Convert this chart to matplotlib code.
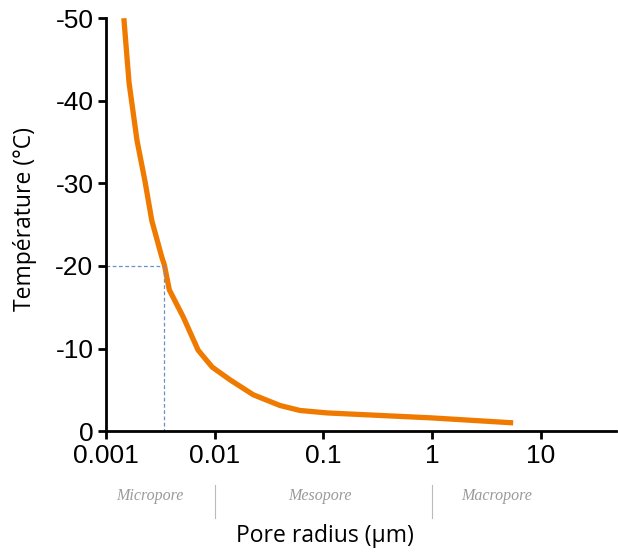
import matplotlib
matplotlib.use('Agg')
import matplotlib.pyplot as plt

# pore radius (um) vs freezing temperature (C)
radius = [0.00146, 0.00163, 0.00193, 0.00229, 0.00264, 0.00326, 0.00345,
          0.00383, 0.00515, 0.00705, 0.0095, 0.0139, 0.0227, 0.040, 0.061,
          0.109, 1.0, 5.6]
temp = [-50, -42.2, -35.2, -30.2, -25.5, -21.1, -20.1, -17.1, -13.8, -9.8,
        -7.75, -6.2, -4.4, -3.1, -2.5, -2.2, -1.6, -1.0]

x_ticks = [0.001, 0.01, 0.1, 1, 10]
x_ticklabels = ['0.001', '0.01', '0.1', '1', '10']
y_ticks = [0, -10, -20, -30, -40, -50]

marker_r = 0.00345
marker_t = -20

regions = ['Micropore', 'Mesopore', 'Macropore']
region_centers = [0.00254, 0.094, 3.93]
region_bounds = [0.01, 1]

fig = plt.figure(figsize=(6.18, 5.52), dpi=100)
ax = fig.add_axes([0.1715, 0.219, 0.826, 0.748])

ax.plot(radius, temp, color='#F07A00', linewidth=3.8, solid_capstyle='butt',
        solid_joinstyle='round')
ax.plot([0.001, marker_r], [marker_t, marker_t], color='#6d8fc4', lw=0.9, ls=(0, (3, 2)))
ax.plot([marker_r, marker_r], [marker_t, 0], color='#6d8fc4', lw=0.9, ls=(0, (3, 2)))

ax.set_xscale('log')
ax.set_xlim(0.001, 50)
ax.set_ylim(0, -50)
ax.set_xticks(x_ticks)
ax.set_xticklabels(x_ticklabels)
ax.minorticks_off()
ax.set_yticks(y_ticks)
ax.set_yticklabels([str(v) for v in y_ticks])

for s in ['top', 'right']:
    ax.spines[s].set_visible(False)
for s in ['left', 'bottom']:
    ax.spines[s].set_linewidth(2)
ax.tick_params(width=2, length=6, direction='out', labelsize=19, pad=3)
for lab in ax.get_xticklabels() + ax.get_yticklabels():
    lab.set_fontfamily('Liberation Sans')

trans = ax.get_xaxis_transform()
for name, xc in zip(regions, region_centers):
    ax.text(xc, -0.158, name, transform=trans, ha='center', va='center',
            fontsize=11.5, style='italic', family='Liberation Serif', color='#9a9a9a')
for b in region_bounds:
    ax.plot([b, b], [-0.13, -0.21], transform=trans, color='#bbbbbb', lw=0.8, clip_on=False)

fig.text(325 / 618, 1 - 536 / 552, 'Pore radius (\u00b5m)', ha='center', va='center',
         fontsize=16.5, family='Open Sans')
fig.text(25 / 618, 1 - 219 / 552, 'Température (°C)', ha='center', va='center',
         rotation=90, fontsize=16.5, family='Open Sans')

plt.savefig('out.png', dpi=100)
